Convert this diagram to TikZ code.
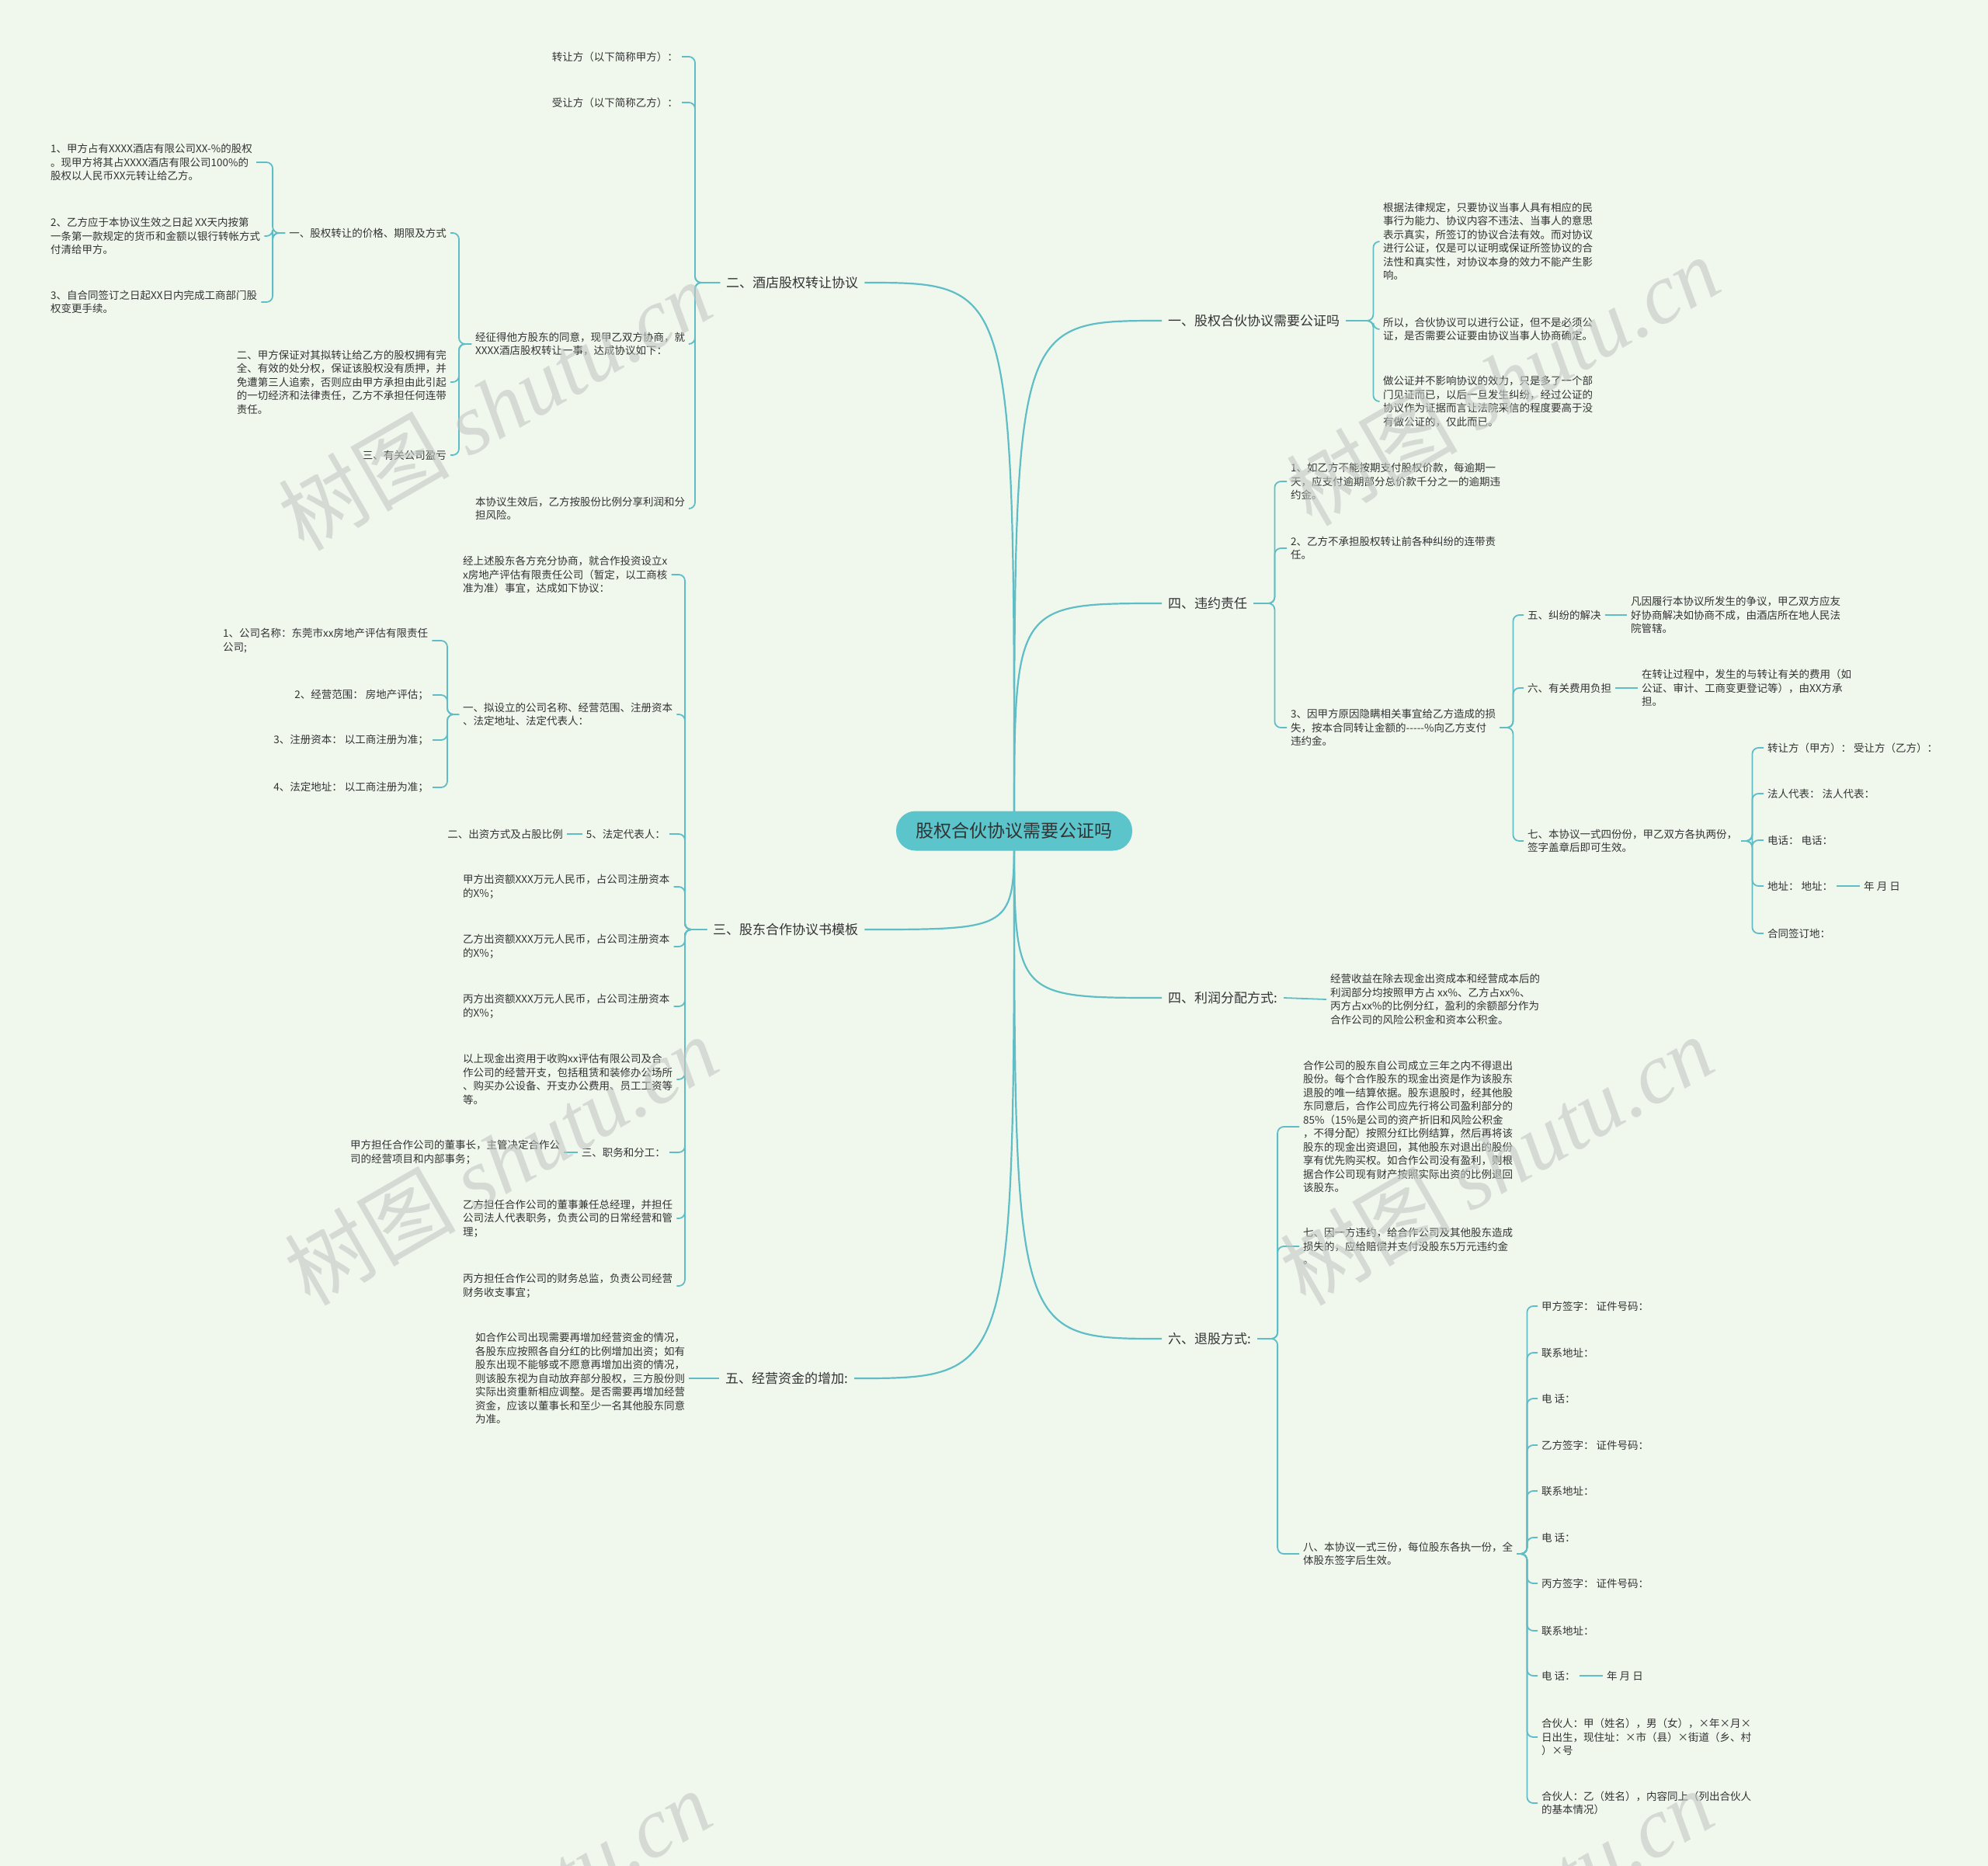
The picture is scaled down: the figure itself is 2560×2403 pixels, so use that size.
\documentclass[tikz,border=0pt]{standalone}
\usepackage{fontspec}
\setmainfont{Noto Sans CJK SC}
\newfontfamily\wmfont{Liberation Serif}
\definecolor{bgc}{HTML}{F0F8EE}
\definecolor{ln}{HTML}{5FBDC5}
\definecolor{cfill}{HTML}{5CC5CB}
\definecolor{tx}{HTML}{333333}
\definecolor{wm}{HTML}{C4C8C4}
\pgfdeclarelayer{edges}
\pgfdeclarelayer{bgl}
\pgfsetlayers{bgl,edges,main}
\newcommand{\lk}[3]{\draw[sub] (#1.west) -- ++(-#3,0) |- (#2.east);}
\newcommand{\rk}[3]{\draw[sub] (#1.east) -- ++(#3,0) |- (#2.west);}
\tikzset{
  every node/.style={text=tx},
  kid/.style={font=\fontsize{13.5}{17.5}\selectfont, align=left, inner xsep=5pt, inner ysep=2pt},
  br/.style={font=\fontsize{17}{20}\selectfont, inner xsep=8pt, inner ysep=3pt},
  sub/.style={draw=ln, line width=1.8pt, rounded corners=8pt},
  mainc/.style={draw=ln, line width=2.2pt},
  wmark/.style={rotate=30, text=wm, opacity=0.6, font=\fontsize{110}{110}\selectfont},
}
\begin{document}
\begin{tikzpicture}[x=1pt,y=-1pt]
\useasboundingbox (0,0) rectangle (2560,2403);
\begin{pgfonlayer}{bgl}
\fill[bgc] (0,0) rectangle (2560,2403);
\end{pgfonlayer}

% root
\node[fill=cfill, rounded corners=25pt, minimum width=304pt, minimum height=51pt, font=\fontsize{23}{26}\selectfont] (root) at (1306,1070) {股权合伙协议需要公证吗};

% branch labels
\node[br, anchor=west] (B2) at (927,364) {二、酒店股权转让协议};
\node[br, anchor=west] (B3) at (910,1197) {三、股东合作协议书模板};
\node[br, anchor=west] (B5) at (926,1775) {五、经营资金的增加:};
\node[br, anchor=west] (R1) at (1496,413) {一、股权合伙协议需要公证吗};
\node[br, anchor=west] (R4) at (1496,777) {四、违约责任};
\node[br, anchor=west] (R4b) at (1496,1285) {四、利润分配方式:};
\node[br, anchor=west] (R6) at (1496,1724) {六、退股方式:};

% ---- 二
\node[kid, anchor=east] (a1) at (878,73) {转让方（以下简称甲方）：};
\node[kid, anchor=east] (a2) at (878,132) {受让方（以下简称乙方）：};
\node[kid, anchor=west] (a3) at (607,443) {经征得他方股东的同意，现甲乙双方协商，就\\XXXX酒店股权转让一事，达成协议如下：};
\node[kid, anchor=west] (a4) at (607,655) {本协议生效后，乙方按股份比例分享利润和分\\担风险。};
\node[kid, anchor=east] (b1) at (580,300) {一、股权转让的价格、期限及方式};
\node[kid, anchor=east] (b2) at (580,492) {二、甲方保证对其拟转让给乙方的股权拥有完\\全、有效的处分权，保证该股权没有质押，并\\免遭第三人追索，否则应由甲方承担由此引起\\的一切经济和法律责任，乙方不承担任何连带\\责任。};
\node[kid, anchor=east] (b3) at (580,586) {三、有关公司盈亏};
\node[kid, anchor=west] (c1) at (60,209) {1、甲方占有XXXX酒店有限公司XX-\%的股权\\。现甲方将其占XXXX酒店有限公司100\%的\\股权以人民币XX元转让给乙方。};
\node[kid, anchor=west] (c2) at (60,304) {2、乙方应于本协议生效之日起 XX天内按第\\一条第一款规定的货币和金额以银行转帐方式\\付清给甲方。};
\node[kid, anchor=west] (c3) at (60,389) {3、自合同签订之日起XX日内完成工商部门股\\权变更手续。};

% ---- 三
\node[kid, anchor=west] (d1) at (591,740) {经上述股东各方充分协商，就合作投资设立x\\x房地产评估有限责任公司（暂定，以工商核\\准为准）事宜，达成如下协议：};
\node[kid, anchor=west] (d2) at (591,920) {一、拟设立的公司名称、经营范围、注册资本\\、法定地址、法定代表人：};
\node[kid, anchor=east] (d3) at (862,1074) {5、法定代表人：};
\node[kid, anchor=east] (d3c) at (730,1074) {二、出资方式及占股比例};
\node[kid, anchor=west] (d4) at (591,1142) {甲方出资额XXX万元人民币，占公司注册资本\\的X\%；};
\node[kid, anchor=west] (d5) at (591,1219) {乙方出资额XXX万元人民币，占公司注册资本\\的X\%；};
\node[kid, anchor=west] (d6) at (591,1296) {丙方出资额XXX万元人民币，占公司注册资本\\的X\%；};
\node[kid, anchor=west] (d7) at (591,1390) {以上现金出资用于收购xx评估有限公司及合\\作公司的经营开支，包括租赁和装修办公场所\\、购买办公设备、开支办公费用、员工工资等\\等。};
\node[kid, anchor=east] (d8) at (862,1484) {三、职务和分工：};
\node[kid, anchor=west] (d8c) at (446,1484) {甲方担任合作公司的董事长，主管决定合作公\\司的经营项目和内部事务；};
\node[kid, anchor=west] (d9) at (591,1569) {乙方担任合作公司的董事兼任总经理，并担任\\公司法人代表职务，负责公司的日常经营和管\\理；};
\node[kid, anchor=west] (d10) at (591,1656) {丙方担任合作公司的财务总监，负责公司经营\\财务收支事宜；};
\node[kid, anchor=west] (e1) at (282,825) {1、公司名称：东莞市xx房地产评估有限责任\\公司;};
\node[kid, anchor=east] (e2) at (557,895) {2、经营范围： 房地产评估；};
\node[kid, anchor=east] (e3) at (557,953) {3、注册资本： 以工商注册为准；};
\node[kid, anchor=east] (e4) at (557,1014) {4、法定地址： 以工商注册为准；};

% ---- 五
\node[kid, anchor=west] (f5) at (607,1775) {如合作公司出现需要再增加经营资金的情况，\\各股东应按照各自分红的比例增加出资；如有\\股东出现不能够或不愿意再增加出资的情况，\\则该股东视为自动放弃部分股权，三方股份则\\实际出资重新相应调整。是否需要再增加经营\\资金，应该以董事长和至少一名其他股东同意\\为准。};

% ---- 一
\node[kid, anchor=west] (f1) at (1776,311) {根据法律规定，只要协议当事人具有相应的民\\事行为能力、协议内容不违法、当事人的意思\\表示真实，所签订的协议合法有效。而对协议\\进行公证，仅是可以证明或保证所签协议的合\\法性和真实性，对协议本身的效力不能产生影\\响。};
\node[kid, anchor=west] (f2) at (1776,424) {所以，合伙协议可以进行公证，但不是必须公\\证，是否需要公证要由协议当事人协商确定。};
\node[kid, anchor=west] (f3) at (1776,517) {做公证并不影响协议的效力，只是多了一个部\\门见证而已，以后一旦发生纠纷，经过公证的\\协议作为证据而言让法院采信的程度要高于没\\有做公证的，仅此而已。};

% ---- 四 违约责任
\node[kid, anchor=west] (g1) at (1657,620) {1、如乙方不能按期支付股权价款，每逾期一\\天，应支付逾期部分总价款千分之一的逾期违\\约金。};
\node[kid, anchor=west] (g2) at (1657,706) {2、乙方不承担股权转让前各种纠纷的连带责\\任。};
\node[kid, anchor=west] (g3) at (1657,937) {3、因甲方原因隐瞒相关事宜给乙方造成的损\\失，按本合同转让金额的-{}-{}-{}-{}-\%向乙方支付\\违约金。};
\node[kid, anchor=west] (h1) at (1962,792) {五、纠纷的解决};
\node[kid, anchor=west] (h1c) at (2095,792) {凡因履行本协议所发生的争议，甲乙双方应友\\好协商解决如协商不成，由酒店所在地人民法\\院管辖。};
\node[kid, anchor=west] (h2) at (1962,886) {六、有关费用负担};
\node[kid, anchor=west] (h2c) at (2109,886) {在转让过程中，发生的与转让有关的费用（如\\公证、审计、工商变更登记等），由XX方承\\担。};
\node[kid, anchor=west] (h3) at (1962,1083) {七、本协议一式四份份，甲乙双方各执两份，\\签字盖章后即可生效。};
\node[kid, anchor=west] (i1) at (2271,963) {转让方（甲方）： 受让方（乙方）：};
\node[kid, anchor=west] (i2) at (2271,1022) {法人代表： 法人代表：};
\node[kid, anchor=west] (i3) at (2271,1082) {电话： 电话：};
\node[kid, anchor=west] (i4) at (2271,1141) {地址： 地址：};
\node[kid, anchor=west] (i4c) at (2395,1141) {年 月 日};
\node[kid, anchor=west] (i5) at (2271,1202) {合同签订地：};

% ---- 四 利润
\node[kid, anchor=west] (p1) at (1708,1287) {经营收益在除去现金出资成本和经营成本后的\\利润部分均按照甲方占 xx\%、乙方占xx\%、\\丙方占xx\%的比例分红，盈利的余额部分作为\\合作公司的风险公积金和资本公积金。};

% ---- 六
\node[kid, anchor=west] (j1) at (1673,1451) {合作公司的股东自公司成立三年之内不得退出\\股份。每个合作股东的现金出资是作为该股东\\退股的唯一结算依据。股东退股时，经其他股\\东同意后，合作公司应先行将公司盈利部分的\\85\%（15\%是公司的资产折旧和风险公积金\\，不得分配）按照分红比例结算，然后再将该\\股东的现金出资退回，其他股东对退出的股份\\享有优先购买权。如合作公司没有盈利，则根\\据合作公司现有财产按照实际出资的比例退回\\该股东。};
\node[kid, anchor=west] (j2) at (1673,1605) {七、因一方违约，给合作公司及其他股东造成\\损失的，应给赔偿并支付没股东5万元违约金\\。};
\node[kid, anchor=west] (j3) at (1673,2001) {八、本协议一式三份，每位股东各执一份，全\\体股东签字后生效。};
\node[kid, anchor=west] (k1) at (1980,1682) {甲方签字： 证件号码：};
\node[kid, anchor=west] (k2) at (1980,1742) {联系地址：};
\node[kid, anchor=west] (k3) at (1980,1801) {电 话：};
\node[kid, anchor=west] (k4) at (1980,1861) {乙方签字： 证件号码：};
\node[kid, anchor=west] (k5) at (1980,1920) {联系地址：};
\node[kid, anchor=west] (k6) at (1980,1980) {电 话：};
\node[kid, anchor=west] (k7) at (1980,2039) {丙方签字： 证件号码：};
\node[kid, anchor=west] (k8) at (1980,2100) {联系地址：};
\node[kid, anchor=west] (k9) at (1980,2158) {电 话：};
\node[kid, anchor=west] (k9c) at (2064,2158) {年 月 日};
\node[kid, anchor=west] (k10) at (1980,2237) {合伙人：甲（姓名），男（女），×年×月×\\日出生，现住址：×市（县）×街道（乡、村\\）×号};
\node[kid, anchor=west] (k11) at (1980,2322) {合伙人：乙（姓名），内容同上（列出合伙人\\的基本情况）};

\begin{pgfonlayer}{edges}
% main curves
\foreach \b in {B2,B3,B5}{
  \draw[mainc] (root.center) .. controls (root.center |- \b.east) .. (\b.east);
}
\foreach \b in {R1,R4,R4b,R6}{
  \draw[mainc] (root.center) .. controls (root.center |- \b.west) .. (\b.west);
}
% 二
\foreach \c in {a1,a2,a3,a4}{ \lk{B2}{\c}{32} }
\foreach \c in {b1,b2,b3}{ \lk{a3}{\c}{16} }
\foreach \c in {c1,c2,c3}{ \lk{b1}{\c}{16} }
% 三
\foreach \c in {d1,d2,d3,d4,d5,d6,d7,d8,d9,d10}{ \lk{B3}{\c}{28} }
\foreach \c in {e1,e2,e3,e4}{ \lk{d2}{\c}{15} }
\draw[sub] (d3.west) -- (d3c.east);
\draw[sub] (d8.west) -- (d8c.east);
% 五
\draw[sub] (B5.west) -- (f5.east);
% 一
\foreach \c in {f1,f2,f3}{ \rk{R1}{\c}{35} }
% 四 违约
\foreach \c in {g1,g2,g3}{ \rk{R4}{\c}{27} }
\foreach \c in {h1,h2,h3}{ \rk{g3}{\c}{17} }
\draw[sub] (h1.east) -- (h1c.west);
\draw[sub] (h2.east) -- (h2c.west);
\foreach \c in {i1,i2,i3,i4,i5}{ \rk{h3}{\c}{14} }
\draw[sub] (i4.east) -- (i4c.west);
% 利润
\draw[sub] (R4b.east) -- (p1.west);
% 六
\foreach \c in {j1,j2,j3}{ \rk{R6}{\c}{26} }
\foreach \c in {k1,k2,k3,k4,k5,k6,k7,k8,k9,k10,k11}{ \rk{j3}{\c}{13} }
\draw[sub] (k9.east) -- (k9c.west);
\end{pgfonlayer}

% watermarks
\begin{scope}
\clip (0,0) rectangle (2560,2403);
\node[wmark] (wm1) at (637,522) {树图 {\wmfont\itshape shutu.cn}};
\node[wmark] (wm2) at (1935,490) {树图 {\wmfont\itshape shutu.cn}};
\node[wmark] (wm3) at (645,1494) {树图 {\wmfont\itshape shutu.cn}};
\node[wmark] (wm4) at (1927,1494) {树图 {\wmfont\itshape shutu.cn}};
\node[wmark] (wm5) at (637,2465) {树图 {\wmfont\itshape shutu.cn}};
\node[wmark] (wm6) at (1927,2465) {树图 {\wmfont\itshape shutu.cn}};
\end{scope}
\end{tikzpicture}
\end{document}
